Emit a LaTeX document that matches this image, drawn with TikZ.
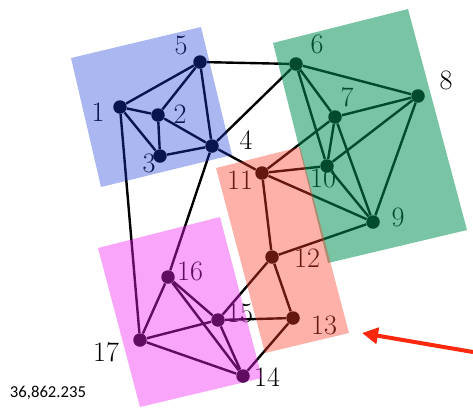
\documentclass[tikz,border=0pt]{standalone}
\usepackage{fontspec}
\newfontfamily\cifras{Carlito}
\usetikzlibrary{arrows.meta}

\definecolor{azul}{RGB}{27,59,216}
\definecolor{verde}{RGB}{0,143,83}
\definecolor{salmon}{RGB}{250,60,40}
\definecolor{rosa}{RGB}{240,30,240}
\definecolor{rojo}{RGB}{250,40,12}

\begin{document}
\begin{tikzpicture}[x=0.02cm, y=-0.02cm,
        vert/.style={circle, fill=black, minimum size=0.27cm, inner sep=0pt},
        etiq/.style={inner sep=0pt, font=\fontsize{16}{18}\selectfont},
        arista/.style={line width=0.048cm},
        flecha/.style={draw=rojo, line width=0.08cm, -{Triangle[length=0.32cm, width=0.32cm]}}
    ]
        \useasboundingbox (0,0) rectangle (473,407);

        % Vertices
        \node[vert] (n1) at (120,107) {};
        \node[vert] (n2) at (158,115) {};
        \node[vert] (n3) at (160,156) {};
        \node[vert] (n4) at (212,146) {};
        \node[vert] (n5) at (200,62) {};
        \node[vert] (n6) at (296,64) {};
        \node[vert] (n7) at (335,117) {};
        \node[vert] (n8) at (418,96) {};
        \node[vert] (n9) at (373,222) {};
        \node[vert] (n10) at (327,166) {};
        \node[vert] (n11) at (262,173) {};
        \node[vert] (n12) at (272,257) {};
        \node[vert] (n13) at (293,318) {};
        \node[vert] (n14) at (243,376) {};
        \node[vert] (n15) at (218,320) {};
        \node[vert] (n16) at (168,277) {};
        \node[vert] (n17) at (140,340) {};

        % Etiquetas
        \node[etiq] (e1) at (98,112) {1};
        \node[etiq] (e2) at (180,114) {2};
        \node[etiq] (e3) at (149,163) {3};
        \node[etiq] (e4) at (246,140) {4};
        \node[etiq] (e5) at (181,45) {5};
        \node[etiq] (e6) at (317,44) {6};
        \node[etiq] (e7) at (347,97) {7};
        \node[etiq] (e8) at (446,80) {8};
        \node[etiq] (e9) at (398,217) {9};
        \node[etiq] (e10) at (323,178) {10};
        \node[etiq] (e11) at (240,180) {11};
        \node[etiq] (e12) at (307,258) {12};
        \node[etiq] (e13) at (324,325) {13};
        \node[etiq] (e14) at (267,377) {14};
        \node[etiq] (e15) at (240,313) {15};
        \node[etiq] (e16) at (190,271) {16};
        \node[etiq] (e17) at (106,352) {17};

        % Aristas
        \draw[arista] (n1) -- (n5) (n1) -- (n2) (n1) -- (n3) (n1) -- (n17);
        \draw[arista] (n2) -- (n5) (n2) -- (n3) (n2) -- (n4) (n3) -- (n4);
        \draw[arista] (n4) -- (n5) (n4) -- (n6) (n4) -- (n11) (n4) -- (n16);
        \draw[arista] (n5) -- (n6);
        \draw[arista] (n6) -- (n8) (n6) -- (n7) (n6) -- (n10);
        \draw[arista] (n7) -- (n8) (n7) -- (n10) (n7) -- (n9) (n7) -- (n11);
        \draw[arista] (n8) -- (n10) (n8) -- (n9);
        \draw[arista] (n9) -- (n10) (n9) -- (n11) (n9) -- (n12) (n10) -- (n11);
        \draw[arista] (n11) -- (n12) (n12) -- (n13) (n12) -- (n15);
        \draw[arista] (n13) -- (n15) (n13) -- (n14);
        \draw[arista] (n14) -- (n15) (n14) -- (n16) (n14) -- (n17);
        \draw[arista] (n15) -- (n16) (n15) -- (n17) (n16) -- (n17);

        % Grupos
        \begin{scope}[fill opacity=0.37]
            \fill[azul] (71,58) -- (201,27) -- (232,155) -- (101,187) -- cycle;
        \end{scope}
        \begin{scope}[fill opacity=0.53]
            \fill[verde] (273,43) -- (408,9) -- (467,230) -- (328,263) -- cycle;
        \end{scope}
        \begin{scope}[fill opacity=0.4]
            \fill[salmon] (216,168) -- (300,147) -- (349,333) -- (265,353) -- cycle;
            \fill[rosa] (98,248) -- (220,217) -- (262,378) -- (140,407) -- cycle;
        \end{scope}

        % Flecha
        \coordinate (fini) at (473,352);
        \coordinate (ffin) at (362,333);
        \draw[flecha] (fini) -- (ffin);

        \node[font=\cifras\fontsize{9.5}{11}\selectfont] (valor) at (48,393) {36,862.235};
    \end{tikzpicture}
\end{document}
